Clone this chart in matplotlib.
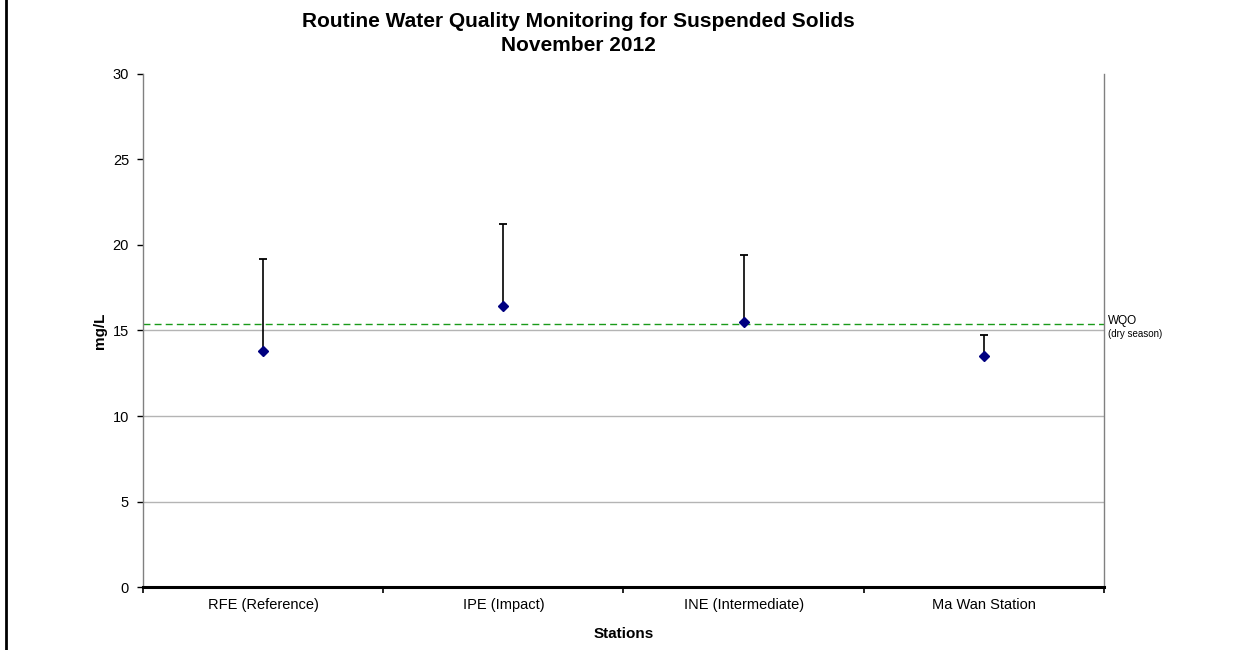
import numpy as np
import matplotlib.pyplot as plt
from matplotlib.lines import Line2D

plt.rcParams['font.family'] = ['Liberation Sans', 'DejaVu Sans']

# Suspended solids, November 2012 (mg/L)
stations = ['RFE (Reference)', 'IPE (Impact)', 'INE (Intermediate)', 'Ma Wan Station']
mean_ss = np.array([13.8, 16.42, 15.52, 13.53])
max_ss = np.array([19.17, 21.24, 19.39, 14.72])
wqo_dry = 15.4

fig = plt.figure(figsize=(12.41, 6.5), dpi=100)
ax = fig.add_axes([0.1152, 0.0969, 0.7744, 0.7893])

x = np.arange(len(stations))

# grid lines at 5, 10, 15 only
for g in [5, 10, 15]:
    ax.axhline(g, color='#b4b4b4', linewidth=1.0, zorder=1)

# WQO line
ax.axhline(wqo_dry, color='#1a9a1a', linestyle=(0, (5, 3)), linewidth=1.0, zorder=2)

# mean with upper bar to the max
ax.errorbar(x, mean_ss, yerr=[np.zeros_like(mean_ss), max_ss - mean_ss],
            fmt='D', color='#000080', markersize=5.5, ecolor='black',
            elinewidth=1.2, capsize=3, capthick=1.3, zorder=3)

ax.set_xlim(-0.5, len(stations) - 0.5)
ax.set_ylim(0, 30)
ax.set_yticks(np.arange(0, 31, 5))

ax.set_xticks(np.arange(-0.5, len(stations)), labels=[''] * (len(stations) + 1))
ax.set_xticks(x, labels=stations, minor=True)
ax.tick_params(axis='x', which='major', direction='out', length=4, width=1.2, color='black')
ax.tick_params(axis='x', which='minor', length=0, pad=8, labelsize=10.5)
ax.tick_params(axis='y', direction='out', length=4, width=1.0, color='black', labelsize=10.5, pad=6)

for side in ['left', 'right']:
    ax.spines[side].set_color('#808080')
    ax.spines[side].set_linewidth(1.0)
ax.spines['top'].set_visible(False)
ax.spines['bottom'].set_color('black')
ax.spines['bottom'].set_linewidth(2.2)

ax.set_ylabel('mg/L', fontsize=11, fontweight='bold', labelpad=4)
ax.set_xlabel('Stations', fontsize=11, fontweight='bold', labelpad=11)

fig.text(0.466, 0.949, 'Routine Water Quality Monitoring for Suspended Solids\nNovember 2012',
         ha='center', va='center', fontsize=15, fontweight='bold', linespacing=1.35)

ax.annotate('WQO', xy=(1.0, wqo_dry), xycoords=('axes fraction', 'data'),
            xytext=(3, 2), textcoords='offset points', va='center', fontsize=8.5)
ax.annotate('(dry season)', xy=(1.0, wqo_dry), xycoords=('axes fraction', 'data'),
            xytext=(3, -7.5), textcoords='offset points', va='center', fontsize=7)

# chart area border on the left edge
fig.add_artist(Line2D([0.0045, 0.0045], [0, 1], color='black', linewidth=2.0,
                      transform=fig.transFigure))

fig.savefig('out.png', dpi=100)
